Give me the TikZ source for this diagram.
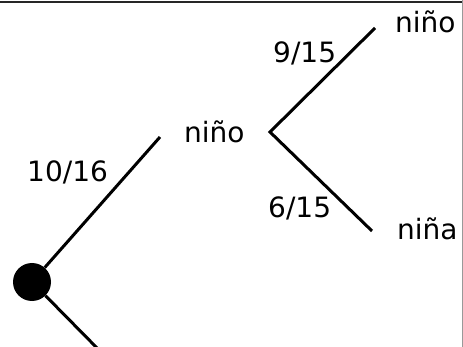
\documentclass[tikz,border=0pt]{standalone}
\usepackage{fontspec}
\setmainfont{DejaVu Sans}
\begin{document}
\begin{tikzpicture}[x=1pt,y=-1pt,
  lbl/.style={anchor=base west,inner sep=0pt,font=\fontsize{28}{30}\selectfont},
  branch/.style={line width=3pt,black},
  frame/.style={line width=2pt,black!85}]
\useasboundingbox (0,0) rectangle (463,347);
\clip (0,0) rectangle (463,347);
\draw[frame] (0,1.8) -- (463,1.8);
\draw[black!40,line width=1pt] (462.5,0) -- (462.5,347);
\node[circle,fill=black,minimum size=38pt,inner sep=0pt] (root) at (32,282) {};
\coordinate (a1) at (160,137);
\coordinate (v) at (270,132);
\coordinate (b1) at (375,28);
\coordinate (b2) at (372,231);
\coordinate (low) at (99,350);
\node[lbl] (n1) at (184,143) {niño};
\node[lbl] (n2) at (395,33) {niño};
\node[lbl] (n3) at (397,240) {niña};
\node[lbl] (p1) at (27,182) {10/16};
\node[lbl] (p2) at (273,63) {9/15};
\node[lbl] (p3) at (268,218) {6/15};
\draw[branch] (root) -- (a1);
\draw[branch] (root) -- (low);
\draw[branch] (b1) -- (v) -- (b2);
\end{tikzpicture}
\end{document}
